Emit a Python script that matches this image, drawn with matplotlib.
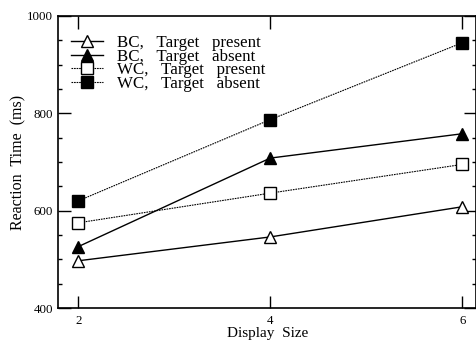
import matplotlib.pyplot as plt
from matplotlib.ticker import MultipleLocator

plt.rcParams['font.family'] = ['Liberation Serif', 'DejaVu Serif']

display_size = [2, 4, 6]
bc_present = [497, 546, 608]
bc_absent = [526, 708, 758]
wc_present = [575, 636, 695]
wc_absent = [620, 787, 945]

labels = ['BC,   Target   present', 'BC,   Target   absent',
          'WC,   Target   present', 'WC,   Target   absent']

fig = plt.figure(figsize=(4.77, 3.40), dpi=100)
ax = fig.add_axes([0.1216, 0.0941, 0.877, 0.859])

ms = 9
ax.plot(display_size, bc_present, '-', color='black', lw=1, marker='^',
        ms=ms, mfc='white', mec='black', mew=1, label=labels[0])
ax.plot(display_size, bc_absent, '-', color='black', lw=1, marker='^',
        ms=ms, mfc='black', mec='black', label=labels[1])
ax.plot(display_size, wc_present, color='black', lw=0.8, ls=(0, (1.5, 0.8)),
        marker='s', ms=ms, mfc='white', mec='black', mew=1, label=labels[2])
ax.plot(display_size, wc_absent, color='black', lw=0.8, ls=(0, (1.5, 0.8)),
        marker='s', ms=ms, mfc='black', mec='black', label=labels[3])

ax.set_xlim(1.79, 6.146)
ax.set_ylim(400, 1000)
ax.set_xticks(display_size)
ax.yaxis.set_major_locator(MultipleLocator(200))
ax.yaxis.set_minor_locator(MultipleLocator(50))

ax.tick_params(which='both', direction='in', top=True, right=True,
               labelsize=9.3, width=1)
ax.tick_params(which='major', length=9)
ax.tick_params(which='minor', length=3)
ax.tick_params(axis='x', pad=5)
for s in ax.spines.values():
    s.set_linewidth(1.2)

ax.set_xlabel('Display  Size', fontsize=11, labelpad=0)
ax.set_ylabel('Reaction  Time  (ms)', fontsize=11.5, labelpad=0.5)

ax.legend(loc='upper left', bbox_to_anchor=(0.0, 0.979), frameon=False,
          fontsize=12.2, handlelength=1.87, handletextpad=0.83,
          labelspacing=-0.15, borderaxespad=0.57, borderpad=0.2,
          markerscale=0.95)

fig.savefig('out.png', dpi=100)
